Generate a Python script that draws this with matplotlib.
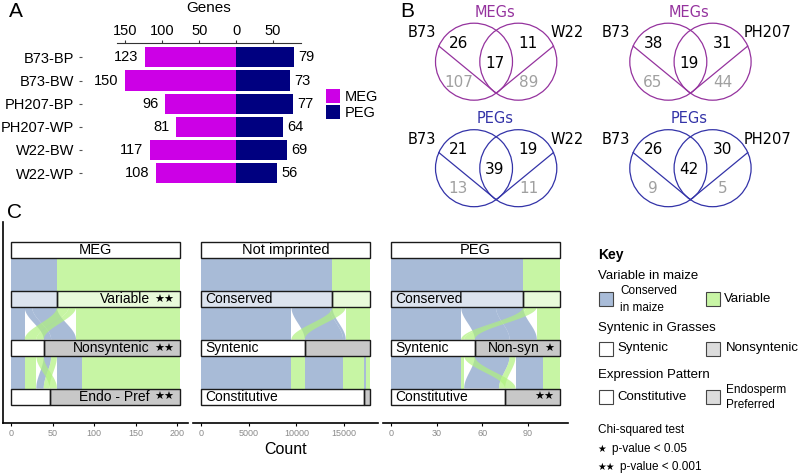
import numpy as np
import matplotlib
matplotlib.use('Agg')
import matplotlib.pyplot as plt
from matplotlib.patches import Rectangle, Circle

plt.rcParams['font.family'] = ['Liberation Sans', 'DejaVu Sans']

# --- panel A data
samples = ['B73-BP', 'B73-BW', 'PH207-BP', 'PH207-WP', 'W22-BW', 'W22-WP']
meg_genes = [123, 150, 96, 81, 117, 108]
peg_genes = [79, 73, 77, 64, 69, 56]

# --- panel B data (B73 vs other line)
venn_other = ['W22', 'PH207']
meg_b73_only = [26, 38]
meg_shared = [17, 19]
meg_other_only = [11, 31]
meg_b73_grey = [107, 65]
meg_other_grey = [89, 44]
peg_b73_only = [21, 26]
peg_shared = [39, 42]
peg_other_only = [19, 30]
peg_b73_grey = [13, 9]
peg_other_grey = [11, 5]

# --- panel C data: combos (variable, syntenic, expression)
# 0 = Conserved / Syntenic / Constitutive, 1 = Variable / Nonsyntenic / Endo-pref
facets = ['MEG', 'Not imprinted', 'PEG']
combo_var = [0, 0, 0, 0, 1, 1, 1, 1]
combo_syn = [0, 0, 1, 1, 0, 0, 1, 1]
combo_expr = [0, 1, 0, 1, 0, 1, 0, 1]
meg_flows = [16, 0, 9, 30, 14, 9, 7, 118]
notimp_flows = [9470, 0, 4040, 280, 1400, 0, 2170, 340]
peg_flows = [46, 0, 23, 18, 2, 7, 4, 11]
facet_ticks = [[0, 50, 100, 150, 200], [0, 5000, 10000, 15000], [0, 30, 60, 90]]

MEG_C = '#CC00E6'
PEG_C = '#000080'
VMEG = '#95339E'
VPEG = '#3333A8'
BLUE = '#849FC7'
GREEN = '#B0F17E'
GREY = '#C8C8C8'

W, H = 800, 474
fig = plt.figure(figsize=(8, 4.74), dpi=100)

def px_axes(x0, y0, x1, y1):
	return fig.add_axes([x0 / W, 1 - y1 / H, (x1 - x0) / W, (y1 - y0) / H])

# ================= A
ax = px_axes(82, 43.5, 301, 187)
yy = np.arange(len(samples))
ax.barh(yy, [-m for m in meg_genes], height=0.87, color=MEG_C)
ax.barh(yy, peg_genes, height=0.87, color=PEG_C)
for i in range(len(samples)):
	ax.annotate(str(meg_genes[i]), (-meg_genes[i], i), xytext=(-5, 0), textcoords='offset points',
		ha='right', va='center', fontsize=10.5)
	ax.annotate(str(peg_genes[i]), (peg_genes[i], i), xytext=(3, 0), textcoords='offset points',
		ha='left', va='center', fontsize=10.5)
ax.set_xlim(-209, 88.2)
ax.set_ylim(len(samples) - 0.4, -0.6)
ax.xaxis.tick_top()
ax.set_xticks([-150, -100, -50, 0, 50])
ax.set_xticklabels(['150', '100', '50', '0', '50'])
ax.set_yticks(yy)
ax.set_yticklabels(samples)
ax.tick_params(axis='x', length=2, pad=2, labelsize=10.5, color='#333333')
ax.tick_params(axis='y', length=2.5, pad=3, labelsize=10.5, color='#555555')
for s in ['left', 'right', 'bottom']:
	ax.spines[s].set_visible(False)
ax.spines['top'].set_bounds(-162, 88.2)
ax.spines['top'].set_color('#333333')
ax.patch.set_alpha(0)

# ================= C
w = 1 / 3.0
all_flows = [meg_flows, notimp_flows, peg_flows]

def stack(counts, keys):
	order = sorted(range(len(counts)), key=lambda i: keys[i])
	pos = {}
	c = 0
	for i in order:
		pos[i] = (c, c + counts[i])
		c += counts[i]
	return pos

def flow(ax, a, b, y0, y1, color):
	t = np.linspace(0, 1, 60)
	s = (1 - np.cos(np.pi * t)) / 2
	y = y0 + (y1 - y0) * t
	left = a[0] + (b[0] - a[0]) * s
	right = a[1] + (b[1] - a[1]) * s
	ax.fill(np.concatenate([left, right[::-1]]), np.concatenate([y, y[::-1]]),
		color=color, alpha=0.7, lw=0, zorder=1)

def box(ax, x0, x1, r, fc, alpha=1.0):
	ax.add_patch(Rectangle((x0, r - w / 2), x1 - x0, w, facecolor=fc, alpha=alpha,
		edgecolor='none', zorder=3))
	ax.add_patch(Rectangle((x0, r - w / 2), x1 - x0, w, facecolor='none',
		edgecolor='#1a1a1a', lw=1.0, zorder=4))

def label(ax, x, r, text, side, stars=0):
	if side == 'left':
		ax.annotate(text, (x, r), xytext=(2.5, 0), textcoords='offset points',
			ha='left', va='center', fontsize=10, zorder=5)
		return
	off = -4.0
	if stars:
		ax.annotate('\u2605' * stars, (x, r), xytext=(off, -0.5), textcoords='offset points',
			ha='right', va='center', fontsize=8, family='DejaVu Sans', zorder=5)
		off -= stars * 6.7 + 4.0
	if text:
		ax.annotate(text, (x, r), xytext=(off, 0), textcoords='offset points',
			ha='right', va='center', fontsize=10, zorder=5)

facet_left = [3, 193, 383]
for f, name in enumerate(facets):
	counts = all_flows[f]
	T = sum(counts)
	ax = px_axes(facet_left[f], 222, facet_left[f] + 185, 423)
	ax.set_xlim(-0.05 * T, 1.05 * T)
	ax.set_ylim(3.0 + 26.3 / 48.9, -28 / 48.9)
	cols = [BLUE if v == 0 else GREEN for v in combo_var]
	n = len(counts)
	k_var = [(combo_var[i], combo_syn[i], combo_expr[i]) for i in range(n)]
	k_syn_top = [(combo_syn[i], combo_var[i], combo_expr[i]) for i in range(n)]
	k_syn_bot = [(combo_syn[i], combo_expr[i], combo_var[i]) for i in range(n)]
	k_expr = [(combo_expr[i], combo_syn[i], combo_var[i]) for i in range(n)]
	p1 = stack(counts, k_var)
	p2a = stack(counts, k_syn_top)
	p2b = stack(counts, k_syn_bot)
	p3 = stack(counts, k_expr)
	for i in range(n):
		if counts[i] == 0:
			continue
		flow(ax, p1[i], p1[i], 0 + w / 2, 1 - w / 2, cols[i])
		flow(ax, p1[i], p2a[i], 1 + w / 2, 2 - w / 2, cols[i])
		flow(ax, p2b[i], p3[i], 2 + w / 2, 3 - w / 2, cols[i])
	nC = sum(c for c, v in zip(counts, combo_var) if v == 0)
	nS = sum(c for c, v in zip(counts, combo_syn) if v == 0)
	nK = sum(c for c, v in zip(counts, combo_expr) if v == 0)
	# coloured fill under the variable strata
	ax.add_patch(Rectangle((0, 1 - w / 2), nC, w, facecolor=BLUE, alpha=0.7, lw=0, zorder=2))
	ax.add_patch(Rectangle((nC, 1 - w / 2), T - nC, w, facecolor=GREEN, alpha=0.7, lw=0, zorder=2))
	box(ax, 0, T, 0, 'white')
	ax.annotate(name, (T / 2, 0), ha='center', va='center', fontsize=10.5, zorder=5)
	box(ax, 0, nC, 1, 'white', 0.6)
	box(ax, nC, T, 1, 'white', 0.6)
	box(ax, 0, nS, 2, 'white')
	box(ax, nS, T, 2, GREY)
	box(ax, 0, nK, 3, 'white')
	box(ax, nK, T, 3, GREY)
	if f == 0:
		label(ax, T, 1, 'Variable', 'right', 2)
		label(ax, T, 2, 'Nonsyntenic', 'right', 2)
		label(ax, T, 3, 'Endo - Pref', 'right', 2)
	elif f == 1:
		label(ax, 0, 1, 'Conserved', 'left')
		label(ax, 0, 2, 'Syntenic', 'left')
		label(ax, 0, 3, 'Constitutive', 'left')
	else:
		label(ax, 0, 1, 'Conserved', 'left')
		label(ax, 0, 2, 'Syntenic', 'left')
		label(ax, T, 2, 'Non-syn', 'right', 1)
		label(ax, 0, 3, 'Constitutive', 'left')
		label(ax, T, 3, '', 'right', 2)
	ax.set_xticks(facet_ticks[f])
	ax.tick_params(axis='x', length=2, width=0.8, pad=2, labelsize=6.5, labelcolor='#8a8a8a')
	ax.set_yticks([])
	ax.spines['top'].set_visible(False)
	ax.spines['right'].set_visible(False)
	ax.spines['bottom'].set_linewidth(1.2)
	if f == 0:
		ax.spines['left'].set_linewidth(1.2)
	else:
		ax.spines['left'].set_visible(False)
	ax.patch.set_alpha(0)

# ================= overlay (B, legends, labels)
ov = fig.add_axes([0, 0, 1, 1])
ov.set_xlim(0, W)
ov.set_ylim(H, 0)
ov.axis('off')

ov.text(16, 11, 'A', fontsize=15, ha='center', va='center')
ov.text(407, 11, 'B', fontsize=15, ha='center', va='center')
ov.text(15, 212, 'C', fontsize=15, ha='center', va='center')
ov.text(209, 8, 'Genes', fontsize=11, ha='center', va='center')
ov.text(286, 450, 'Count', fontsize=11.5, ha='center', va='center')

# MEG / PEG legend
ov.add_patch(Rectangle((326, 89), 14, 14, facecolor=MEG_C, edgecolor='none'))
ov.add_patch(Rectangle((326, 105), 14, 14, facecolor=PEG_C, edgecolor='none'))
ov.text(345, 97, 'MEG', fontsize=10.5, va='center')
ov.text(345, 113, 'PEG', fontsize=10.5, va='center')

# Venn diagrams
r = 38.5
vf = 'DejaVu Sans'
for j in range(2):
	dx = j * 194.3
	for k, (title, col, nums) in enumerate([
		('MEGs', VMEG, (meg_b73_only[j], meg_shared[j], meg_other_only[j], meg_b73_grey[j], meg_other_grey[j])),
		('PEGs', VPEG, (peg_b73_only[j], peg_shared[j], peg_other_only[j], peg_b73_grey[j], peg_other_grey[j]))]):
		dy = k * 106.5
		cx1, cx2, cy = 474 + dx, 518.3 + dx, 61.7 + dy
		ov.add_patch(Circle((cx1, cy), r, fill=False, edgecolor=col, lw=0.9))
		ov.add_patch(Circle((cx2, cy), r, fill=False, edgecolor=col, lw=0.9))
		mx = (cx1 + cx2) / 2
		by = cy + np.sqrt(r ** 2 - ((cx2 - cx1) / 2) ** 2)
		a1 = np.radians(156)
		a2 = np.radians(24)
		ov.plot([cx1 + r * np.cos(a1), mx], [cy - r * np.sin(a1), by], color=col, lw=0.9)
		ov.plot([cx2 + r * np.cos(a2), mx], [cy - r * np.sin(a2), by], color=col, lw=0.9)
		ov.text(mx - 1, 12 + dy, title, color=col, fontsize=10.5, ha='center', va='center', family=vf)
		ov.text(422 + dx, 32.5 + dy, 'B73', fontsize=10.5, ha='center', va='center', family=vf)
		ov.text(567 + dx + (6 if j else 0), 32.5 + dy, venn_other[j], fontsize=10.5, ha='center', va='center', family=vf)
		ov.text(459 + dx, 43.5 + dy, str(nums[0]), fontsize=11, ha='center', va='center', family=vf)
		ov.text(494.5 + dx, 63.5 + dy, str(nums[1]), fontsize=11, ha='center', va='center', family=vf)
		ov.text(528 + dx, 43.5 + dy, str(nums[2]), fontsize=11, ha='center', va='center', family=vf)
		ov.text(458.5 + dx, 82 + dy, str(nums[3]), fontsize=11, ha='center', va='center', family=vf, color='#a0a0a0')
		ov.text(528.5 + dx, 82 + dy, str(nums[4]), fontsize=11, ha='center', va='center', family=vf, color='#a0a0a0')

# Key legend
def swatch(x, y, fc):
	ov.add_patch(Rectangle((x, y), 14, 14, facecolor=fc, edgecolor='#444444', lw=0.8))

ov.text(598, 255, 'Key', fontsize=10, fontweight='bold', va='center')
ov.text(598, 276, 'Variable in maize', fontsize=9.5, va='center')
swatch(598.5, 292, '#A9BCD8')
ov.text(620, 291, 'Conserved', fontsize=8.5, va='center')
ov.text(620, 308, 'in maize', fontsize=8.5, va='center')
swatch(706, 292, '#C8F5A5')
ov.text(724, 299, 'Variable', fontsize=9.5, va='center')
ov.text(598, 328, 'Syntenic in Grasses', fontsize=9.5, va='center')
swatch(598.5, 341.5, 'white')
ov.text(617.5, 348, 'Syntenic', fontsize=9.5, va='center')
swatch(706, 341.5, '#DCDCDC')
ov.text(726, 348, 'Nonsyntenic', fontsize=9.5, va='center')
ov.text(598, 375, 'Expression Pattern', fontsize=9.5, va='center')
swatch(598.5, 390, 'white')
ov.text(617.5, 397, 'Constitutive', fontsize=9.5, va='center')
swatch(706, 390, '#DCDCDC')
ov.text(726, 390, 'Endosperm', fontsize=8.5, va='center')
ov.text(726, 405, 'Preferred', fontsize=8.5, va='center')
ov.text(598, 430, 'Chi-squared test', fontsize=8.5, va='center')
ov.text(597, 449, '\u2605', fontsize=7, va='center', family='DejaVu Sans')
ov.text(611.5, 449, 'p-value < 0.05', fontsize=8.5, va='center')
ov.text(597, 467, '\u2605\u2605', fontsize=7, va='center', family='DejaVu Sans')
ov.text(619.5, 467, 'p-value < 0.001', fontsize=8.5, va='center')

fig.savefig('out.png', dpi=100)
